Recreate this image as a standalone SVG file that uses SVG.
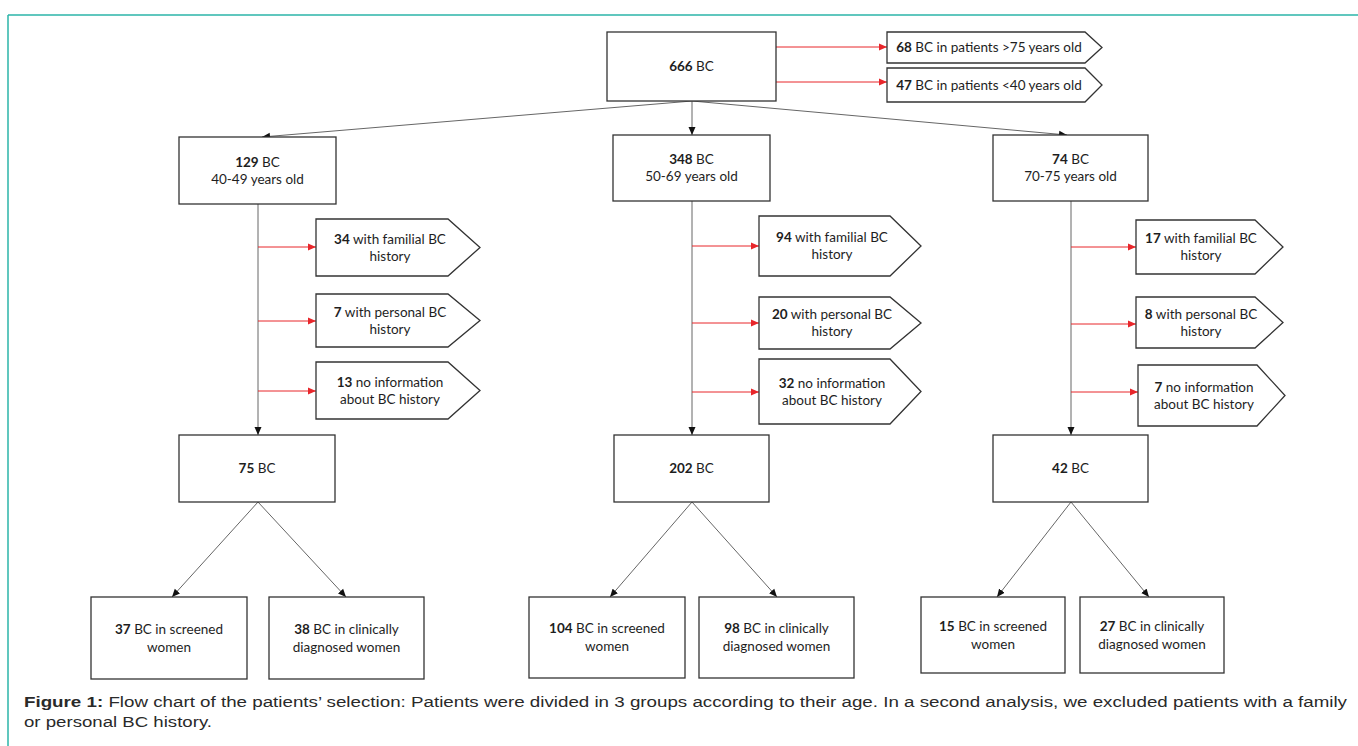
<svg xmlns="http://www.w3.org/2000/svg" width="1358" height="746" viewBox="0 0 1358 746">
<style>
.bg{fill:#ffffff}
.frame{stroke:#2bb5a8;stroke-width:1.5;fill:none}
.box{fill:#ffffff;stroke:#333333;stroke-width:1.3}
.pent{fill:#ffffff;stroke:#333333;stroke-width:1.3}
.t{font-family:"Lato","Liberation Sans",sans-serif;font-size:13.5px;fill:#1e1e1e;text-anchor:middle}
.b{font-weight:bold}
.conn{stroke:#666666;stroke-width:1;fill:none}
.red{stroke:#e8262b;stroke-width:1;fill:none}
.cap{font-family:"Liberation Sans",Arial,sans-serif;font-size:14px;fill:#2a2a2a}
</style>
<defs>
<marker id="ab" viewBox="0 0 8 8" refX="8" refY="4" markerWidth="8" markerHeight="8" markerUnits="userSpaceOnUse" orient="auto">
<path d="M0,0.5 L8,4 L0,7.5 Z" fill="#111111"/>
</marker>
<marker id="ar" viewBox="0 0 8 8" refX="8" refY="4" markerWidth="8" markerHeight="8" markerUnits="userSpaceOnUse" orient="auto">
<path d="M0,0.5 L8,4 L0,7.5 Z" fill="#e8262b"/>
</marker>
</defs>
<rect class="bg" x="0" y="0" width="1358" height="746"/>
<g id="frame">
<line class="frame" x1="8" y1="15" x2="1358" y2="15"/>
<line class="frame" x1="8" y1="15" x2="8" y2="746"/>
</g>

<g id="connectors">
<line class="conn" x1="692" y1="101" x2="262" y2="137" marker-end="url(#ab)"/>
<line class="conn" x1="692" y1="101" x2="692" y2="135" marker-end="url(#ab)"/>
<line class="conn" x1="692" y1="101" x2="1067" y2="135" marker-end="url(#ab)"/>
<line class="red" x1="776" y1="47" x2="887" y2="47" marker-end="url(#ar)"/>
<line class="red" x1="776" y1="82" x2="887" y2="82" marker-end="url(#ar)"/>

<line class="conn" x1="258" y1="204" x2="258" y2="435" marker-end="url(#ab)"/>
<line class="red" x1="258" y1="247" x2="316" y2="247" marker-end="url(#ar)"/>
<line class="red" x1="258" y1="321" x2="316" y2="321" marker-end="url(#ar)"/>
<line class="red" x1="258" y1="391" x2="316" y2="391" marker-end="url(#ar)"/>

<line class="conn" x1="692" y1="201" x2="692" y2="435" marker-end="url(#ab)"/>
<line class="red" x1="692" y1="246" x2="759" y2="246" marker-end="url(#ar)"/>
<line class="red" x1="692" y1="323" x2="759" y2="323" marker-end="url(#ar)"/>
<line class="red" x1="692" y1="392" x2="759" y2="392" marker-end="url(#ar)"/>

<line class="conn" x1="1071" y1="201" x2="1071" y2="435" marker-end="url(#ab)"/>
<line class="red" x1="1071" y1="247" x2="1136" y2="247" marker-end="url(#ar)"/>
<line class="red" x1="1071" y1="324" x2="1136" y2="324" marker-end="url(#ar)"/>
<line class="red" x1="1071" y1="392" x2="1138" y2="392" marker-end="url(#ar)"/>

<line class="conn" x1="258" y1="502" x2="172" y2="597" marker-end="url(#ab)"/>
<line class="conn" x1="258" y1="502" x2="346" y2="597" marker-end="url(#ab)"/>
<line class="conn" x1="692" y1="502" x2="610" y2="597" marker-end="url(#ab)"/>
<line class="conn" x1="692" y1="502" x2="777" y2="597" marker-end="url(#ab)"/>
<line class="conn" x1="1071" y1="502" x2="997" y2="597" marker-end="url(#ab)"/>
<line class="conn" x1="1071" y1="502" x2="1149" y2="597" marker-end="url(#ab)"/>
</g>

<g id="n666">
<rect class="box" x="607" y="32" width="169" height="69"/>
<text class="t" x="691.5" y="71"><tspan class="b">666</tspan> BC</text>
</g>
<g id="n68">
<polygon class="pent" points="887,32 1085,32 1102,47.5 1085,63 887,63"/>
<text class="t" x="989" y="52"><tspan class="b">68</tspan> BC in patients &gt;75 years old</text>
</g>
<g id="n47">
<polygon class="pent" points="887,68 1085,68 1102,85 1085,102 887,102"/>
<text class="t" x="989" y="89.5"><tspan class="b">47</tspan> BC in patients &lt;40 years old</text>
</g>

<g id="n129">
<rect class="box" x="179" y="137" width="157" height="67"/>
<text class="t" x="257.5" y="166.5"><tspan class="b">129</tspan> BC</text>
<text class="t" x="257.5" y="183.5">40-49 years old</text>
</g>
<g id="n348">
<rect class="box" x="613" y="135" width="157" height="66"/>
<text class="t" x="691.5" y="164"><tspan class="b">348</tspan> BC</text>
<text class="t" x="691.5" y="181">50-69 years old</text>
</g>
<g id="n74">
<rect class="box" x="993" y="135" width="155" height="66"/>
<text class="t" x="1070.5" y="164"><tspan class="b">74</tspan> BC</text>
<text class="t" x="1070.5" y="181">70-75 years old</text>
</g>

<g id="n34">
<polygon class="pent" points="316,219 448,219 480,247.5 448,276 316,276"/>
<text class="t" x="390" y="243.5"><tspan class="b">34</tspan> with familial BC</text>
<text class="t" x="390" y="260.5">history</text>
</g>
<g id="n7p">
<polygon class="pent" points="316,294 448,294 480,320.5 448,347 316,347"/>
<text class="t" x="390" y="316.5"><tspan class="b">7</tspan> with personal BC</text>
<text class="t" x="390" y="333.5">history</text>
</g>
<g id="n13">
<polygon class="pent" points="316,362 448,362 480,390.5 448,419 316,419"/>
<text class="t" x="390" y="386.5"><tspan class="b">13</tspan> no information</text>
<text class="t" x="390" y="403.5">about BC history</text>
</g>

<g id="n94">
<polygon class="pent" points="759,216 890,216 921,246 890,276 759,276"/>
<text class="t" x="832" y="242"><tspan class="b">94</tspan> with familial BC</text>
<text class="t" x="832" y="259">history</text>
</g>
<g id="n20">
<polygon class="pent" points="759,297 890,297 921,323 890,349 759,349"/>
<text class="t" x="832" y="319"><tspan class="b">20</tspan> with personal BC</text>
<text class="t" x="832" y="336">history</text>
</g>
<g id="n32">
<polygon class="pent" points="759,359 890,359 921,391.5 890,424 759,424"/>
<text class="t" x="832" y="387.5"><tspan class="b">32</tspan> no information</text>
<text class="t" x="832" y="404.5">about BC history</text>
</g>

<g id="n17">
<polygon class="pent" points="1136,220 1255,220 1283,247 1255,274 1136,274"/>
<text class="t" x="1201" y="243"><tspan class="b">17</tspan> with familial BC</text>
<text class="t" x="1201" y="260">history</text>
</g>
<g id="n8">
<polygon class="pent" points="1136,297 1255,297 1283,322.5 1255,348 1136,348"/>
<text class="t" x="1201" y="318.5"><tspan class="b">8</tspan> with personal BC</text>
<text class="t" x="1201" y="335.5">history</text>
</g>
<g id="n7n">
<polygon class="pent" points="1138,365 1257,365 1285,395.5 1257,426 1138,426"/>
<text class="t" x="1204" y="391.5"><tspan class="b">7</tspan> no information</text>
<text class="t" x="1204" y="408.5">about BC history</text>
</g>

<g id="n75">
<rect class="box" x="179" y="435" width="156" height="67"/>
<text class="t" x="257" y="473"><tspan class="b">75</tspan> BC</text>
</g>
<g id="n202">
<rect class="box" x="614" y="435" width="155" height="67"/>
<text class="t" x="691.5" y="473"><tspan class="b">202</tspan> BC</text>
</g>
<g id="n42">
<rect class="box" x="993" y="435" width="155" height="67"/>
<text class="t" x="1070.5" y="473"><tspan class="b">42</tspan> BC</text>
</g>

<g id="n37">
<rect class="box" x="91" y="597" width="156" height="82"/>
<text class="t" x="169" y="633.5"><tspan class="b">37</tspan> BC in screened</text>
<text class="t" x="169" y="651.5">women</text>
</g>
<g id="n38">
<rect class="box" x="269" y="597" width="155" height="82"/>
<text class="t" x="346.5" y="633.5"><tspan class="b">38</tspan> BC in clinically</text>
<text class="t" x="346.5" y="651.5">diagnosed women</text>
</g>
<g id="n104">
<rect class="box" x="529" y="597" width="156" height="81"/>
<text class="t" x="607" y="633"><tspan class="b">104</tspan> BC in screened</text>
<text class="t" x="607" y="651">women</text>
</g>
<g id="n98">
<rect class="box" x="699" y="597" width="155" height="81"/>
<text class="t" x="776.5" y="633"><tspan class="b">98</tspan> BC in clinically</text>
<text class="t" x="776.5" y="651">diagnosed women</text>
</g>
<g id="n15">
<rect class="box" x="921" y="597" width="144" height="76"/>
<text class="t" x="993" y="630.5"><tspan class="b">15</tspan> BC in screened</text>
<text class="t" x="993" y="648.5">women</text>
</g>
<g id="n27">
<rect class="box" x="1080" y="597" width="144" height="76"/>
<text class="t" x="1152" y="630.5"><tspan class="b">27</tspan> BC in clinically</text>
<text class="t" x="1152" y="648.5">diagnosed women</text>
</g>

<g id="caption">
<text class="cap" x="24" y="707" textLength="1323" lengthAdjust="spacingAndGlyphs"><tspan font-weight="bold">Figure 1:</tspan> Flow chart of the patients’ selection: Patients were divided in 3 groups according to their age. In a second analysis, we excluded patients with a family</text>
<text class="cap" x="24" y="727" textLength="188" lengthAdjust="spacingAndGlyphs">or personal BC history.</text>
</g>
</svg>
